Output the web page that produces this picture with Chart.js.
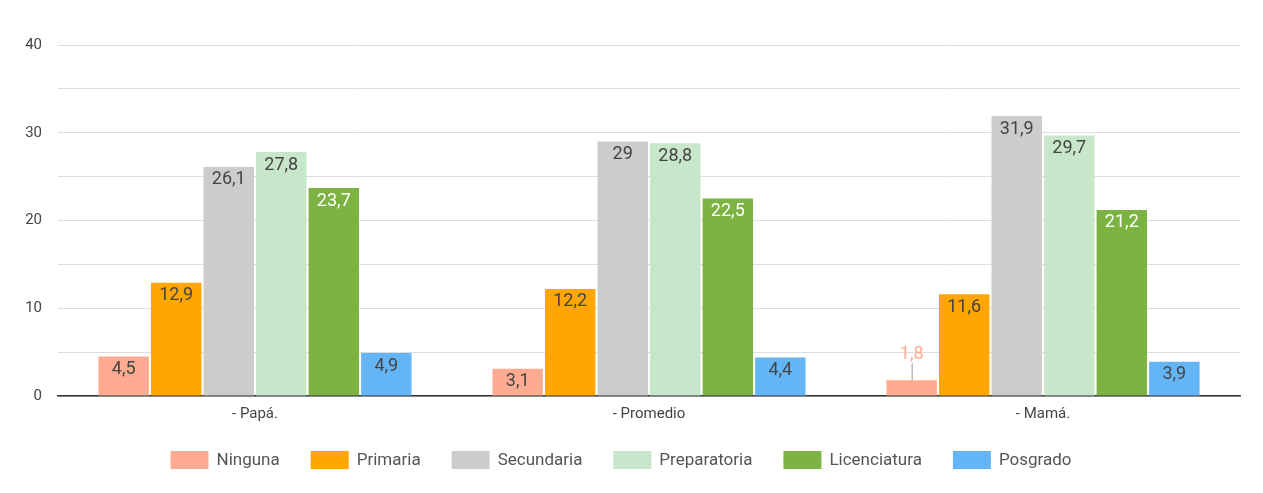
<!DOCTYPE html>
<html lang="es">
<head>
    <meta charset="UTF-8">
    <title>Escolaridad de los padres</title>
    <script src="https://cdn.jsdelivr.net/npm/chart.js"></script>
    <style>
        html, body {
            margin: 0;
            padding: 0;
            background: #ffffff;
        }
        .chart-container {
            width: 1263px;
            height: 493px;
        }
    </style>
</head>
<body>
    <div class="chart-container">
        <canvas id="nivelChart"></canvas>
    </div>

    <script>
        // datos
        const categories = ['- Papá.', '- Promedio', '- Mamá.'];
        const levels = ['Ninguna', 'Primaria', 'Secundaria', 'Preparatoria', 'Licenciatura', 'Posgrado'];
        const ninguna = [4.5, 3.1, 1.8];
        const primaria = [12.9, 12.2, 11.6];
        const secundaria = [26.1, 29, 31.9];
        const preparatoria = [27.8, 28.8, 29.7];
        const licenciatura = [23.7, 22.5, 21.2];
        const posgrado = [4.9, 4.4, 3.9];
        const yTicks = [0, 10, 20, 30, 40];

        const seriesValues = [ninguna, primaria, secundaria, preparatoria, licenciatura, posgrado];
        const colors = ['#ffab91', '#ffa600', '#cccccc', '#c8e6c9', '#7cb342', '#64b5f6'];
        const labelColors = ['#444444', '#444444', '#444444', '#444444', '#ffffff', '#444444'];
        const FONT = 'Roboto, "Noto Sans", sans-serif';

        function fmt(v) {
            return String(v).replace('.', ',');
        }

        // etiquetas de valor dentro de cada barra (o arriba si no cabe)
        const barLabels = {
            id: 'barLabels',
            afterDatasetsDraw(chart) {
                const ctx = chart.ctx;
                ctx.save();
                ctx.font = '18px ' + FONT;
                ctx.textAlign = 'center';
                ctx.textBaseline = 'middle';
                chart.data.datasets.forEach((ds, i) => {
                    const meta = chart.getDatasetMeta(i);
                    meta.data.forEach((bar, j) => {
                        const text = fmt(ds.data[j]);
                        const h = bar.base - bar.y;
                        if (h >= 26) {
                            ctx.fillStyle = labelColors[i];
                            ctx.fillText(text, bar.x, bar.y + 13);
                        } else {
                            ctx.strokeStyle = '#999999';
                            ctx.lineWidth = 1;
                            ctx.beginPath();
                            ctx.moveTo(bar.x + 0.5, bar.y);
                            ctx.lineTo(bar.x + 0.5, bar.y - 17);
                            ctx.stroke();
                            ctx.fillStyle = colors[i];
                            ctx.fillText(text, bar.x, bar.y - 26);
                        }
                    });
                });
                ctx.restore();
            }
        };

        // leyenda inferior
        const bottomLegend = {
            id: 'bottomLegend',
            afterDraw(chart) {
                const ctx = chart.ctx;
                const boxW = 38, boxH = 18, gap = 8, spacing = 31;
                ctx.save();
                ctx.font = '17px ' + FONT;
                ctx.textBaseline = 'middle';
                const widths = levels.map(l => ctx.measureText(l).width);
                let total = 0;
                widths.forEach((w, i) => {
                    total += boxW + gap + w + (i < widths.length - 1 ? spacing : 0);
                });
                let x = 621 - total / 2;
                const cy = 460;
                levels.forEach((l, i) => {
                    ctx.fillStyle = colors[i];
                    ctx.fillRect(x, cy - boxH / 2, boxW, boxH);
                    ctx.fillStyle = '#555555';
                    ctx.fillText(l, x + boxW + gap, cy + 1);
                    x += boxW + gap + widths[i] + spacing;
                });
                ctx.restore();
            }
        };

        const ctx = document.getElementById('nivelChart').getContext('2d');
        new Chart(ctx, {
            type: 'bar',
            data: {
                labels: categories,
                datasets: levels.map((l, i) => ({
                    label: l,
                    data: seriesValues[i],
                    backgroundColor: colors[i],
                    borderWidth: 0,
                    categoryPercentage: 0.8,
                    barPercentage: 0.96
                }))
            },
            options: {
                responsive: true,
                maintainAspectRatio: false,
                animation: false,
                layout: {
                    padding: { top: 45, right: 23, bottom: 67, left: 0 }
                },
                plugins: {
                    legend: { display: false },
                    tooltip: { enabled: false }
                },
                scales: {
                    x: {
                        grid: { display: false, drawTicks: false },
                        border: { display: true, color: '#333333', width: 1.5 },
                        ticks: {
                            color: '#444444',
                            font: { family: FONT, size: 15 },
                            padding: 9
                        },
                        afterFit(scale) { scale.height = 30; }
                    },
                    y: {
                        min: 0,
                        max: 40,
                        ticks: {
                            stepSize: 5,
                            color: '#444444',
                            font: { family: FONT, size: 15 },
                            padding: 16,
                            callback: v => yTicks.includes(v) ? v : ''
                        },
                        grid: { color: '#dddddd', drawTicks: false },
                        border: { display: false },
                        afterFit(scale) { scale.width = 58; }
                    }
                }
            },
            plugins: [barLabels, bottomLegend]
        });
    </script>
</body>
</html>
